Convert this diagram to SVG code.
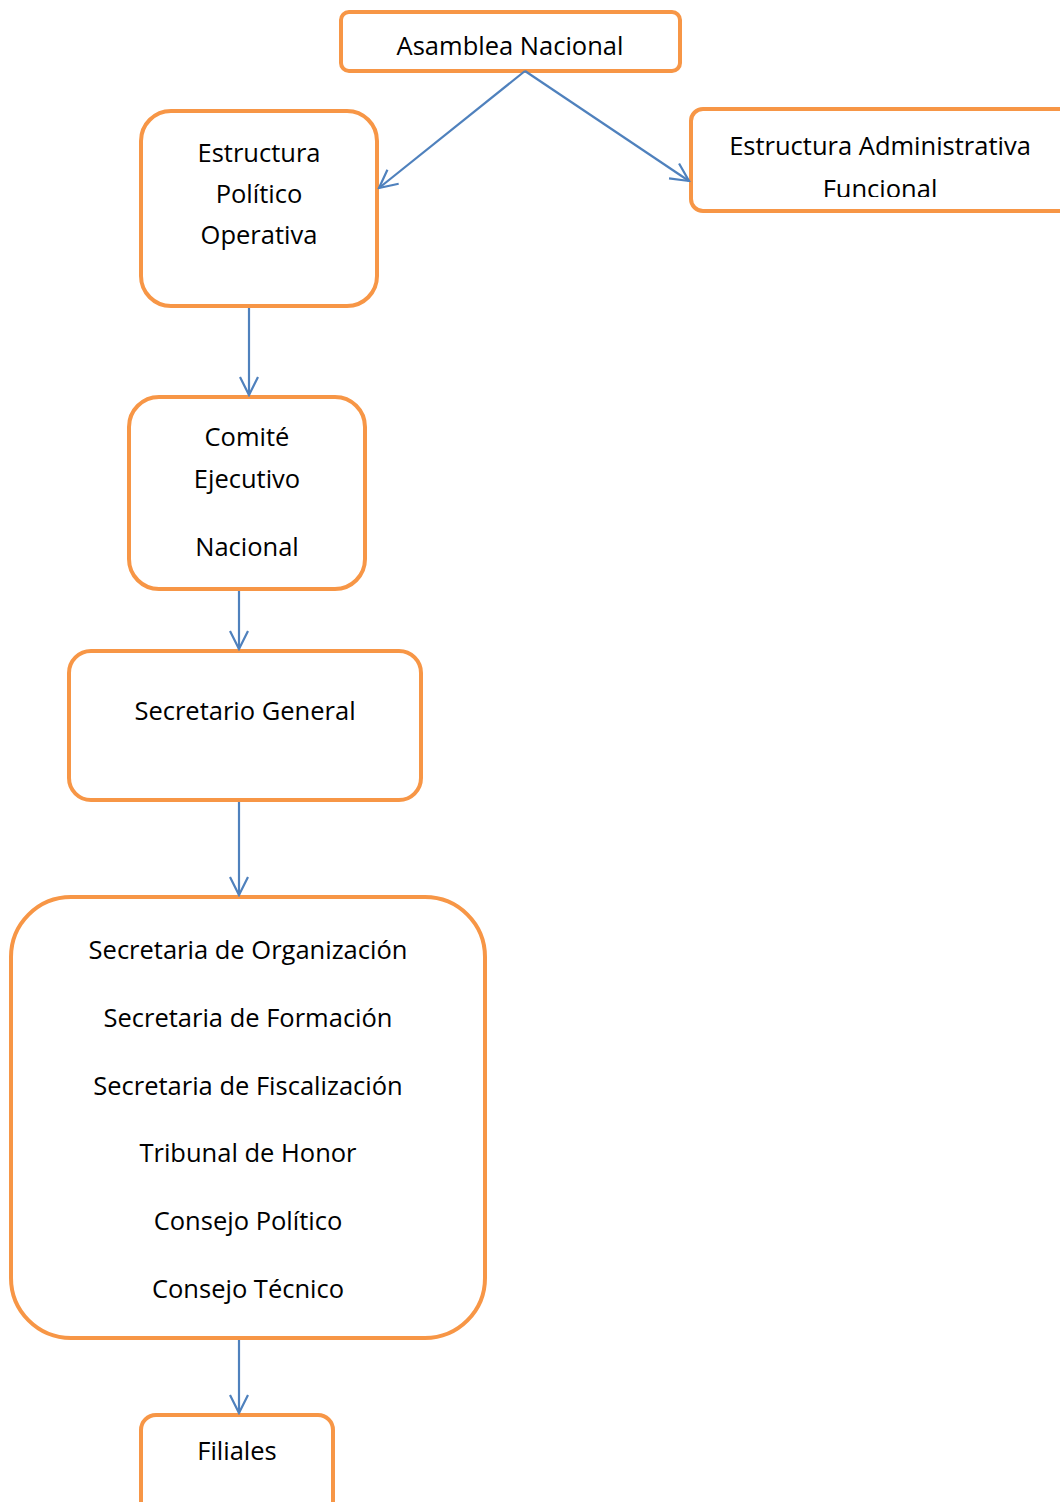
<svg xmlns="http://www.w3.org/2000/svg" width="1060" height="1502" viewBox="0 0 1060 1502">
<style>
.box{fill:#fff;stroke:#F79646;stroke-width:4}
.t{font-family:"Open Sans","Liberation Sans",sans-serif;font-size:25.5px;fill:#000;text-anchor:middle}
.c{stroke:#4F81BD;stroke-width:2.2;fill:none}
</style>
<defs>
<marker id="ah" viewBox="0 0 22 22" refX="20" refY="11" markerWidth="22" markerHeight="22" markerUnits="userSpaceOnUse" orient="auto">
<path d="M2,2 L20,11 L2,20" fill="none" stroke="#4F81BD" stroke-width="2.2"/>
</marker>
<clipPath id="clipF"><rect x="693" y="111" width="367" height="86"/></clipPath>
</defs>
<rect width="1060" height="1502" fill="#fff"/>
<g id="n-asamblea">
<rect class="box" x="341" y="12" width="339" height="59" rx="8"/>
<text class="t" x="510" y="55">Asamblea Nacional</text>
</g>
<g id="n-admin">
<rect class="box" x="691" y="109" width="380" height="102" rx="12"/>
<g clip-path="url(#clipF)">
<text class="t" x="880" y="155">Estructura Administrativa</text>
<text class="t" x="880" y="198">Funcional</text>
</g>
</g>
<g id="n-politica">
<rect class="box" x="141" y="111" width="236" height="195" rx="30"/>
<text class="t" x="259" y="162">Estructura</text>
<text class="t" x="259" y="203">Político</text>
<text class="t" x="259" y="244">Operativa</text>
</g>
<g id="n-comite">
<rect class="box" x="129" y="397" width="236" height="192" rx="30"/>
<text class="t" x="247" y="446">Comité</text>
<text class="t" x="247" y="488">Ejecutivo</text>
<text class="t" x="247" y="556">Nacional</text>
</g>
<g id="n-secgen">
<rect class="box" x="69" y="651" width="352" height="149" rx="22"/>
<text class="t" x="245" y="720">Secretario General</text>
</g>
<g id="n-secretarias">
<rect class="box" x="11" y="897" width="474" height="441" rx="60"/>
<text class="t" x="248" y="959">Secretaria de Organización</text>
<text class="t" x="248" y="1027">Secretaria de Formación</text>
<text class="t" x="248" y="1095">Secretaria de Fiscalización</text>
<text class="t" x="248" y="1162">Tribunal de Honor</text>
<text class="t" x="248" y="1230">Consejo Político</text>
<text class="t" x="248" y="1298">Consejo Técnico</text>
</g>
<g id="n-filiales">
<rect class="box" x="141" y="1415" width="192" height="110" rx="15"/>
<text class="t" x="237" y="1460">Filiales</text>
</g>
<g id="connectors">
<line class="c" x1="525" y1="71" x2="379" y2="188" marker-end="url(#ah)"/>
<line class="c" x1="525" y1="71" x2="689" y2="181" marker-end="url(#ah)"/>
<line class="c" x1="249" y1="308" x2="249" y2="395" marker-end="url(#ah)"/>
<line class="c" x1="239" y1="591" x2="239" y2="649" marker-end="url(#ah)"/>
<line class="c" x1="239" y1="802" x2="239" y2="895" marker-end="url(#ah)"/>
<line class="c" x1="239" y1="1340" x2="239" y2="1413" marker-end="url(#ah)"/>
</g>
</svg>
